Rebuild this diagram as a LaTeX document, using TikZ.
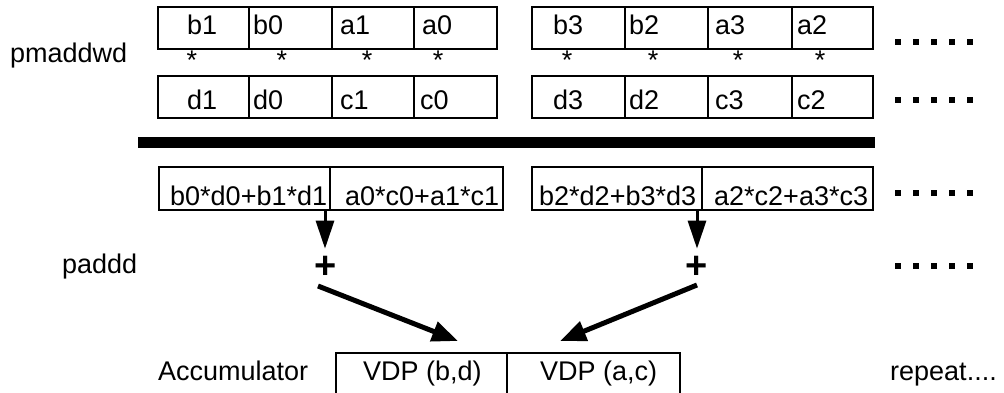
\documentclass[tikz,border=0pt]{standalone}
\usepackage{fontspec}
\setmainfont{Liberation Sans}
\usetikzlibrary{arrows.meta}
\begin{document}
\begin{tikzpicture}[x=1pt,y=-1pt,
  every node/.style={font=\fontsize{27}{30}\selectfont},
  cell/.style={draw, line width=1.6pt, inner sep=0pt, outer sep=0pt, anchor=north west},
  txt/.style={inner sep=0pt, anchor=base west},
  star/.style={inner sep=0pt, anchor=base},
  dotsq/.style={fill=black, inner sep=0pt, minimum size=6pt},
  plussign/.style={inner sep=0pt, font=\fontsize{38}{40}\bfseries\selectfont},
  varrow/.style={line width=3pt, -{Triangle[length=28pt,width=18pt]}},
  darrow/.style={line width=5pt, -{Triangle[length=26pt,width=20pt]}}
]
\useasboundingbox (0,0) rectangle (1004,393);
\clip (0,0) rectangle (1004,393);

% top row, left group
\node[cell, minimum width=91pt, minimum height=42pt] (tA1) at (158,7) {};
\node[cell, minimum width=83pt, minimum height=42pt] (tA2) at (249,7) {};
\node[cell, minimum width=82pt, minimum height=42pt] (tA3) at (332,7) {};
\node[cell, minimum width=83pt, minimum height=42pt] (tA4) at (414,7) {};
% top row, right group
\node[cell, minimum width=93pt, minimum height=42pt] (tB1) at (532,7) {};
\node[cell, minimum width=83pt, minimum height=42pt] (tB2) at (625,7) {};
\node[cell, minimum width=84pt, minimum height=42pt] (tB3) at (708,7) {};
\node[cell, minimum width=81pt, minimum height=42pt] (tB4) at (792,7) {};
% second row
\node[cell, minimum width=91pt, minimum height=42pt] (bA1) at (158,76) {};
\node[cell, minimum width=83pt, minimum height=42pt] (bA2) at (249,76) {};
\node[cell, minimum width=82pt, minimum height=42pt] (bA3) at (332,76) {};
\node[cell, minimum width=83pt, minimum height=42pt] (bA4) at (414,76) {};
\node[cell, minimum width=93pt, minimum height=42pt] (bB1) at (532,76) {};
\node[cell, minimum width=83pt, minimum height=42pt] (bB2) at (625,76) {};
\node[cell, minimum width=84pt, minimum height=42pt] (bB3) at (708,76) {};
\node[cell, minimum width=81pt, minimum height=42pt] (bB4) at (792,76) {};

% texts
\node[txt] (t1) at (187,35) {b1};
\node[txt] (t2) at (253,35) {b0};
\node[txt] (t3) at (340,35) {a1};
\node[txt] (t4) at (422,35) {a0};
\node[txt] (t5) at (553,35) {b3};
\node[txt] (t6) at (629,35) {b2};
\node[txt] (t7) at (715,35) {a3};
\node[txt] (t8) at (797,35) {a2};
\node[txt] (u1) at (187,110) {d1};
\node[txt] (u2) at (253,110) {d0};
\node[txt] (u3) at (340,110) {c1};
\node[txt] (u4) at (420,110) {c0};
\node[txt] (u5) at (553,110) {d3};
\node[txt] (u6) at (629,110) {d2};
\node[txt] (u7) at (715,110) {c3};
\node[txt] (u8) at (797,110) {c2};

% stars
\node[star] (s1) at (192,70) {*};
\node[star] (s2) at (282,70) {*};
\node[star] (s3) at (367,70) {*};
\node[star] (s4) at (438,70) {*};
\node[star] (s5) at (567,70) {*};
\node[star] (s6) at (653,70) {*};
\node[star] (s7) at (738,70) {*};
\node[star] (s8) at (820,70) {*};

\node[txt] (lpm) at (10,63) {pmaddwd};

% bar
\node[fill=black, inner sep=0pt, outer sep=0pt, anchor=north west,
      minimum width=737pt, minimum height=11pt] (bar) at (138,137) {};

% result row
\node[cell, minimum width=171pt, minimum height=43pt] (rA1) at (159,167) {};
\node[cell, minimum width=173pt, minimum height=43pt] (rA2) at (330,167) {};
\node[cell, minimum width=170pt, minimum height=43pt] (rB1) at (532,167) {};
\node[cell, minimum width=171pt, minimum height=43pt] (rB2) at (702,167) {};
\node[txt] (r1) at (170,205) {b0*d0+b1*d1};
\node[txt] (r2) at (345,205) {a0*c0+a1*c1};
\node[txt] (r3) at (539,205) {b2*d2+b3*d3};
\node[txt] (r4) at (714,205) {a2*c2+a3*c3};

% dots
\foreach \r/\yy in {1/42, 2/100, 3/193, 4/266}{
  \foreach \k in {0,...,4}{
    \node[dotsq] (dot\r-\k) at (898+18*\k, \yy) {};
  }
}

\node[txt] (lpa) at (62,273) {paddd};

% plus signs
\node[plussign] (plusL) at (326,267) {+};
\node[plussign] (plusR) at (697,267) {+};

% vertical arrows
\draw[varrow, shorten >=7pt] (rA1.south east) ++(-5,0) coordinate (vL) (vL) -- (vL |- plusL.north);
\draw[varrow, shorten >=7pt] (rB1.south east) ++(-5,0) coordinate (vR) (vR) -- (vR |- plusR.north);

% accumulator
\node[cell, minimum width=171pt, minimum height=60pt] (accBD) at (336,353) {};
\node[cell, minimum width=173pt, minimum height=60pt] (accAC) at (507,353) {};
\node[txt] (vbd) at (363,380) {VDP (b,d)};
\node[txt] (vac) at (540,380) {VDP (a,c)};
\node[txt] (lacc) at (158,380) {Accumulator};
\node[txt] (lrep) at (890,380) {repeat....};

% diagonal arrows
\draw[darrow] ([shift={(-8,19)}]plusL.center) -- ([shift={(-49,-12)}]accBD.north east);
\draw[darrow] ([shift={(0,18)}]plusR.center) -- ([shift={(53,-12)}]accAC.north west);
\end{tikzpicture}
\end{document}
